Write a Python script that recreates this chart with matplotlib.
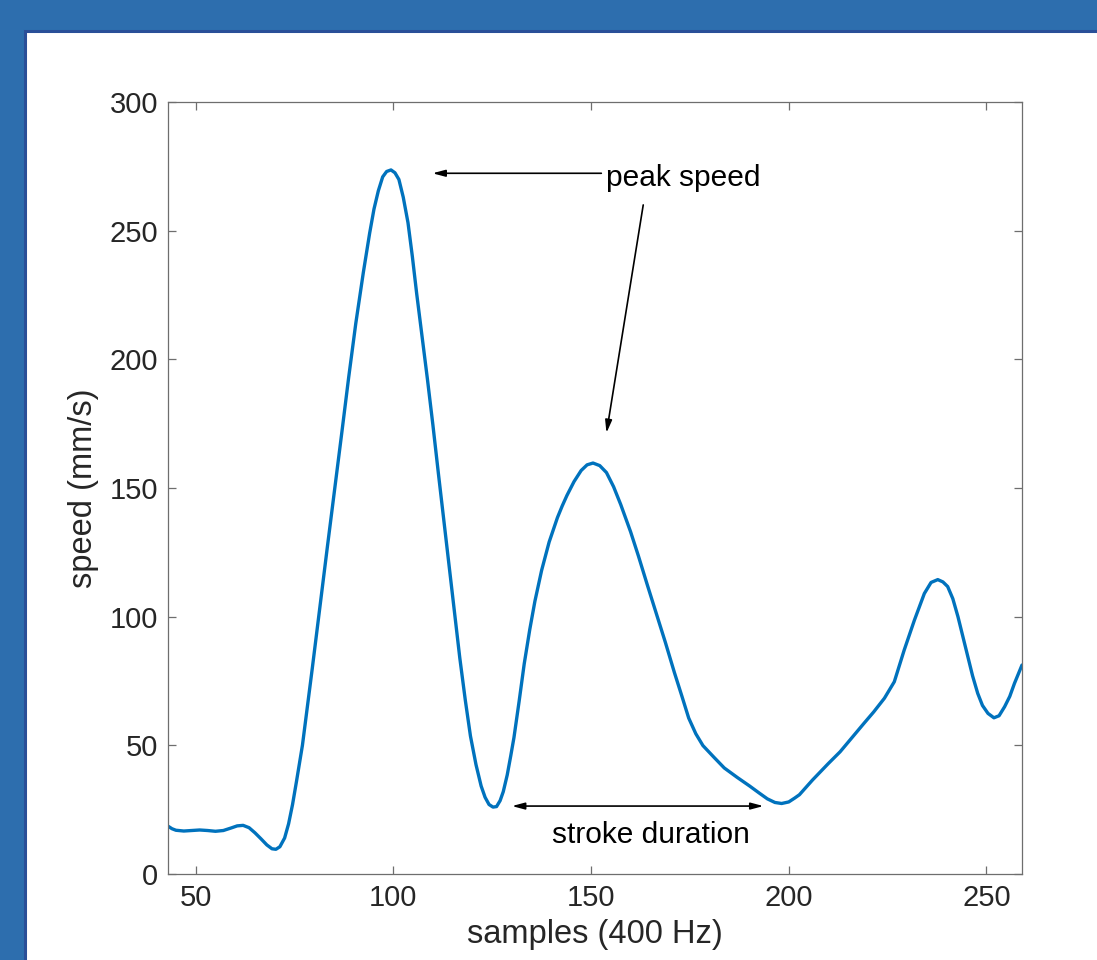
import matplotlib
matplotlib.use("Agg")
import matplotlib.pyplot as plt
from matplotlib.patches import Rectangle

# ---- data ----
samples = [43, 44, 45, 47, 49, 51, 53, 55, 57, 59, 60.5, 62, 63.5, 65, 66.5, 68, 69.3, 70.3,
           71.3, 72.5, 73.5, 74.5, 75.5, 77, 78, 79.5, 81.5, 83.3, 85.1, 87, 88.7, 90.5,
           92.4, 94, 95.1, 96.2, 97.3, 98.3, 99.4, 100.4, 101.4, 102.5, 103.7, 104.8, 105.9,
           107.2, 108.6, 110, 111.4, 112.8, 114.1, 115.5, 116.8, 118.2, 119.5, 120.9, 122.2,
           123.2, 124.2, 125.2, 126.1, 127, 127.8, 128.8, 129.7, 130.5, 131.8, 133.1, 134.5,
           135.8, 137.5, 139.4, 141.5, 142.7, 143.9, 145.7, 147.5, 149, 150.5, 152.2, 153.9,
           155.7, 157.5, 160, 162, 164.2, 166.5, 168.8, 171.1, 173, 174.7, 176.5, 178.3, 181,
           183.7, 187, 190.1, 192.5, 194.6, 196.5, 198.2, 200, 201.5, 202.7, 206, 210, 213,
           216, 219, 221.5, 224.2, 226.7, 229.2, 231.8, 234.3, 236, 237.7, 239, 240.2, 241.5,
           242.8, 244, 245.3, 246.5, 247.8, 249, 250.4, 251.9, 253.2, 254.6, 255.9, 257.1,
           258.1, 259]
speed = [18.6, 17.6, 17.0, 16.7, 16.9, 17.1, 16.9, 16.6, 16.9, 17.9, 18.7, 18.9, 18.0, 16.0,
         13.7, 11.3, 9.8, 9.6, 10.6, 14.0, 19.5, 27, 36, 50, 62, 80, 104.7, 127, 148.8, 172,
         193, 214, 233.7, 249, 258.4, 265.5, 270.9, 273, 273.6, 272.5, 269.9, 263, 253.1,
         240, 225.5, 209.5, 192.5, 174.5, 155.5, 137, 119.5, 101, 84, 67.5, 53.6, 42.5, 34.2,
         29.8, 27, 26, 26.2, 28.5, 32, 38.5, 46, 53, 67, 81.7, 95, 106, 118, 129, 138.5,
         143, 147.1, 152.5, 156.8, 159, 159.7, 158.7, 156, 150.5, 143.6, 133, 123.5, 112.5,
         101.2, 90, 78.2, 69, 60.6, 54.5, 49.9, 45.5, 41.2, 37.5, 34.2, 31.5, 29.2, 27.8,
         27.4, 28, 29.5, 30.8, 36.5, 42.9, 47.5, 53, 58.5, 63, 68.3, 74.7, 87, 98.7, 109,
         113.3, 114.4, 113.5, 111.7, 107, 100, 92.5, 84.5, 77, 70.2, 65.5, 62.4, 60.7, 61.5,
         65, 69, 74.1, 77.8, 81.2]

x_ticks = [50, 100, 150, 200, 250]
y_ticks = [0, 50, 100, 150, 200, 250, 300]
x_label = "samples (400 Hz)"
y_label = "speed (mm/s)"
peak_text = "peak speed"
stroke_text = "stroke duration"

plt.rcParams['font.family'] = ['Liberation Sans', 'DejaVu Sans']

W, H = 1097, 960
fig = plt.figure(figsize=(W / 100, H / 100), dpi=100)
fig.patch.set_facecolor('#2d6eae')
# white panel with darker blue inner edge
panel = Rectangle((25 / W, -0.02), 1 - 25 / W + 0.02, (H - 31) / H + 0.02,
                  transform=fig.transFigure, facecolor='white',
                  edgecolor='#2a4f98', linewidth=2.2, zorder=-10)
fig.add_artist(panel)

ax = fig.add_axes([168 / W, 1 - 874 / H, (1022 - 168) / W, (874 - 102) / H])
ax.set_zorder(5)
ax.patch.set_alpha(0)
ax.plot(samples, speed, color='#0072BD', linewidth=2.4,
        solid_capstyle='round', solid_joinstyle='round')

ax.set_xlim(43, 259)
ax.set_ylim(0, 300)
ax.set_xticks(x_ticks)
ax.set_yticks(y_ticks)
for s in ax.spines.values():
    s.set_color('#6e6e6e')
    s.set_linewidth(0.9)
ax.tick_params(direction='in', length=6, width=0.9, color='#6e6e6e',
               labelsize=21, labelcolor='#262626', top=True, right=True, pad=7)
ax.set_xlabel(x_label, fontsize=23.5, color='#262626', labelpad=5)
ax.set_ylabel(y_label, fontsize=23.5, color='#262626', labelpad=8)

arrow_kw = dict(arrowstyle='-|>,head_length=0.75,head_width=0.2', color='black',
                lw=1.2, shrinkA=0, shrinkB=0)
ax.text(153.8, 267.4, peak_text, fontsize=21.5, ha='left', va='baseline', color='black')
ax.annotate('', xy=(109.9, 272.3), xytext=(152.6, 272.3), arrowprops=arrow_kw)
ax.annotate('', xy=(153.9, 171.4), xytext=(163.2, 260.0), arrowprops=arrow_kw)

dbl_kw = dict(arrowstyle='<|-|>,head_length=0.75,head_width=0.2', color='black',
              lw=1.2, shrinkA=0, shrinkB=0)
ax.annotate('', xy=(193.6, 26.4), xytext=(130.0, 26.4), arrowprops=dbl_kw)
ax.text(165.1, 11.9, stroke_text, fontsize=21.5, ha='center', va='baseline', color='black')

fig.savefig('out.png', dpi=100, facecolor=fig.get_facecolor())
